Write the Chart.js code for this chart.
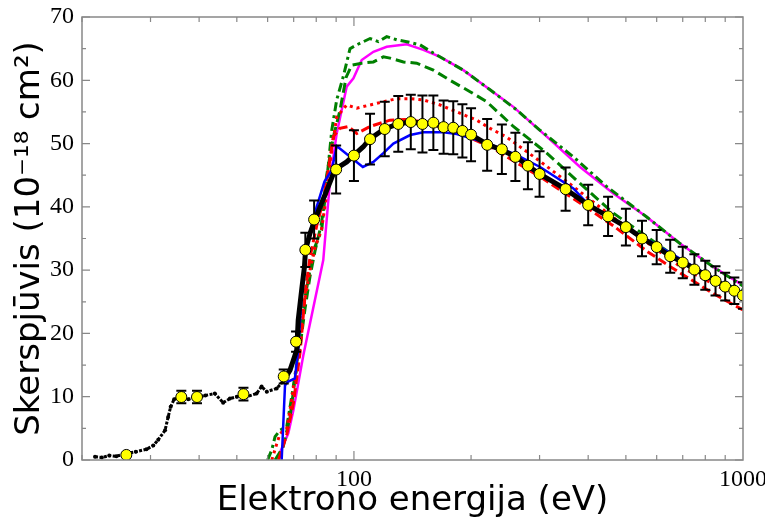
<!DOCTYPE html>
<html><head><meta charset="utf-8">
<script src="https://cdn.jsdelivr.net/npm/chart.js@4/dist/chart.umd.min.js"></script>
<style>html,body{margin:0;padding:0;background:#fff}canvas{display:block}</style>
</head><body>
<canvas id="c" width="765" height="522"></canvas>
<script>
// Experimental points with error bars (energy eV, cross section 1e-18 cm2)
const expE = [26,36,39.5,52,66,71,75,79,90,100,110,120,130,140,150,160,170,180,190,200,220,240,260,280,300,350,400,450,500,550,600,650,700,750,800,850,900,950,1000];
const expV = [0.8,9.95,9.95,10.4,13.2,18.7,33.2,38.0,45.9,48.1,50.7,52.3,53.1,53.4,53.1,53.3,52.6,52.5,52.0,51.4,49.8,49.1,47.9,46.5,45.2,42.8,40.3,38.5,36.8,35.0,33.65,32.2,31.2,30.1,29.2,28.3,27.4,26.75,26.0];
const expErr = [0,1.0,1.0,1.0,1.1,1.6,2.7,3.0,3.8,4.0,4.0,4.3,4.4,4.3,4.5,4.3,4.2,4.2,4.2,4.2,4.1,3.9,3.8,3.7,3.6,3.4,3.2,3.1,2.9,2.8,2.7,2.6,2.5,2.4,2.3,2.3,2.2,2.1,2.1];

// Dense measurement, low energy part (dots)
const dotE = [21.6,22.5,23.5,24.5,26.1,27.5,29.3,30.5,31.4,32.7,33.3,33.8,34.5,35.7,37.5,39.4,41.5,43.9,46.1,48,50,53,56.2,57.9,59.7,63.3,66.1,68.5,69.9];
const dotV = [0.5,0.4,0.7,0.6,1.05,1.3,1.7,2.3,3.2,4.7,6.8,8.4,9.6,9.9,9.6,9.9,10.2,10.5,9.05,9.7,10.0,10.0,10.5,11.6,10.8,11.3,12.6,14.2,15.8];

// Dense measurement, thick line part
const lineE = [66.1,68.5,69.9,71.3,71.9,73.4,74.6,75.1,77.1,79.4,85.9,89.4,95.8,99.7,105.7,109.7,119.7,129.8,139.6,149.6,159.6,169.4,179.6,190,200,219.8,239.6,260.8,280,300,350,400,450,502,552,602,652,704,754,804,854,902,955,1000];
const lineV = [12.6,14.2,15.8,17.4,22.1,26.9,30.5,33.2,35.8,38.0,43.2,45.9,47.1,48.1,49.5,50.7,52.3,53.1,53.4,53.2,53.2,52.7,52.4,52.0,51.4,49.9,49.0,47.9,46.5,45.2,42.8,40.3,38.5,36.8,35.0,33.6,32.2,31.2,30.1,29.2,28.3,27.4,26.75,26.0];

// Blue solid
const blueE = [65.2,66.5,67.8,70.5,71.9,73.4,75.1,77.1,80.2,84.0,87.7,90.3,105.4,112.2,119,126.3,139.5,150.8,169.7,183.8,219.8,260,300.9,366.4,400,500,1000];
const blueV = [0,11.8,12.4,12.9,17.4,26,33,36,40,44,45.8,49.6,46.3,47.1,48.5,50.0,51.35,51.8,51.8,51.5,50.1,48.3,46.3,42.9,40.4,36.8,26.0];

// Red dashed
const redDashE = [64,67.2,69.9,72.7,75.1,77.1,80.2,83.4,86,88.5,92,96.7,101.7,110,123.8,136.7,150.8,180,223.8,300,381.2,464.4,565.8,652,839,1000];
const redDashV = [0,4,9,17,27,32,37,41,46,51.1,52.4,52.7,51.6,52.7,53.7,53.8,53.4,52.1,49.5,44.8,40.6,37.0,33.0,30.5,26.3,23.7];

// Red dotted
const redDotE = [61.5,63.3,64.6,67.2,69.2,71.3,72.7,74.9,77.1,79.4,82.6,85.1,87.7,90.3,95.8,101.7,110,119,128.8,139.5,150.8,166.5,183.8,206.8,223.8,247.2,300.9,366.4,464.4,565.8,689,839,1000];
const redDotV = [0,2.5,4.2,5,9.5,15,20,25.5,30,33.5,36.5,42,49,54.2,56.1,55.6,56.1,56.6,57.1,57.1,56.9,56.1,55.0,53.7,52.4,51.0,47.2,43.2,38.3,34.4,30.6,27.8,25.6];

// Green dash-dot (upper)
const greenAE = [60,61.5,62.7,64.6,67.2,69.2,71.3,72.7,74.9,77.1,79.4,82.6,85.1,87.7,90.3,93.9,97.7,101.7,110,115.5,121.4,128.8,136.7,147.9,160,191.1,223.8,262.2,300.9,366.4,446.6,565.8,689,839,1000];
const greenAV = [0,1.6,3.7,4.7,5.3,10.0,15.3,20.5,25.8,30.0,33.7,36.3,44,52.1,56.9,60.6,65.0,65.6,66.6,66.1,66.9,66.4,66.1,65.6,64.3,61.6,58.5,55.3,52.1,47.9,43.2,38.4,34.2,30.5,27.5];

// Green dashed (lower)
const greenBE = [62.7,65.8,68.5,70.5,72.7,74.9,77.1,79.4,82.6,85.1,88.5,92.1,95.5,98.7,104.7,112.2,119,123.8,134,145,160,176.6,198.8,219.5,256.9,313.1,381.2,464.4,565.8,689,839,1000];
const greenBV = [0,2.1,6.8,12.6,18,24,29,33,37.5,45,51,55.3,60.5,62.4,62.7,62.9,63.7,63.5,62.9,62.7,61.6,60.0,58.2,56.6,52.7,48.5,43.7,39.0,35.3,31.6,28.4,26.8];

// Magenta solid
const magE = [63.3,67.8,69.9,74.1,83.4,86.8,90.3,95.8,99.7,104.7,112.2,121.4,136.7,150.8,166.5,191.1,223.8,256.9,313.1,381.2,464.4,565.8,689,839,1000];
const magV = [0,4.2,7.9,16.5,31.6,44.2,51.6,59.0,60.3,63.2,64.5,65.3,65.7,64.8,63.7,61.6,58.5,55.8,51.1,46.3,42.1,38.4,34.2,30.5,27.6];

const yTicks = [0,10,20,30,40,50,60,70];
const xLabels = [100,1000];

function pts(E, V) { return E.map((e, i) => ({x: e, y: V[i]})); }

const frameTicks = {
  id: 'frameTicks',
  afterDatasetsDraw(chart) {
    const {ctx, chartArea: a, scales: {x, y}} = chart;
    ctx.save();
    ctx.strokeStyle = '#888';
    ctx.lineWidth = 1.5;
    ctx.strokeRect(a.left, a.top, a.right - a.left, a.bottom - a.top);
    ctx.lineWidth = 1.2;
    ctx.beginPath();
    for (let v = 0; v <= 70; v += 5) {
      const py = y.getPixelForValue(v);
      const len = v % 10 === 0 ? 8 : 4;
      ctx.moveTo(a.left, py); ctx.lineTo(a.left + len, py);
      ctx.moveTo(a.right, py); ctx.lineTo(a.right - len, py);
    }
    const decades = [10, 100];
    for (const d of decades) {
      for (let k = 1; k <= 9; k++) {
        const e = d * k;
        if (e < 20 || e > 1000) continue;
        const px = x.getPixelForValue(e);
        const len = (k === 1) ? 9 : 5;
        ctx.moveTo(px, a.bottom); ctx.lineTo(px, a.bottom - len);
        ctx.moveTo(px, a.top); ctx.lineTo(px, a.top + len);
      }
    }
    ctx.stroke();
    ctx.restore();
  },
  beforeDatasetDraw(chart, args) {
    if (args.index !== 0) return;
    const {ctx, chartArea: a, scales: {x, y}} = chart;
    ctx.save();
    ctx.beginPath();
    ctx.rect(a.left, a.top, a.right - a.left, a.bottom - a.top);
    ctx.clip();
    ctx.strokeStyle = '#000';
    ctx.lineWidth = 2;
    ctx.beginPath();
    expE.forEach((e, i) => {
      const err = expErr[i];
      if (!err) return;
      const px = x.getPixelForValue(e);
      const p1 = y.getPixelForValue(expV[i] + err);
      const p2 = y.getPixelForValue(expV[i] - err);
      ctx.moveTo(px, p1); ctx.lineTo(px, p2);
      ctx.moveTo(px - 5, p1); ctx.lineTo(px + 5, p1);
      ctx.moveTo(px - 5, p2); ctx.lineTo(px + 5, p2);
    });
    ctx.stroke();
    ctx.restore();
  }
};

const lineDefaults = {showLine: true, pointRadius: 0, fill: false, tension: 0, clip: 0};

new Chart(document.getElementById('c'), {
  type: 'scatter',
  data: {
    datasets: [
      {label: 'exp', data: pts(expE, expV), showLine: false, pointRadius: 5.5, pointHoverRadius: 5.5,
       backgroundColor: '#ffff00', borderColor: '#000', borderWidth: 1, clip: 0, order: 0},
      Object.assign({label: 'line', data: pts(lineE, lineV), borderColor: '#000', borderWidth: 5, order: 1}, lineDefaults),
      Object.assign({label: 'dots', data: pts(dotE, dotV), borderColor: '#000', borderWidth: 3, borderDash: [3, 1.5],
        pointBackgroundColor: '#000', pointBorderWidth: 0, order: 2}, lineDefaults, {pointRadius: 2}),
      Object.assign({label: 'blue', data: pts(blueE, blueV), borderColor: '#0000ff', borderWidth: 2.5, order: 3}, lineDefaults),
      Object.assign({label: 'redDash', data: pts(redDashE, redDashV), borderColor: '#ff0000', borderWidth: 3, borderDash: [9, 4], order: 4}, lineDefaults),
      Object.assign({label: 'redDot', data: pts(redDotE, redDotV), borderColor: '#ff0000', borderWidth: 3, borderDash: [3, 4], order: 5}, lineDefaults),
      Object.assign({label: 'greenA', data: pts(greenAE, greenAV), borderColor: '#008000', borderWidth: 3, borderDash: [9, 4, 3, 4], order: 6}, lineDefaults),
      Object.assign({label: 'greenB', data: pts(greenBE, greenBV), borderColor: '#008000', borderWidth: 3, borderDash: [10, 5], order: 7}, lineDefaults),
      Object.assign({label: 'magenta', data: pts(magE, magV), borderColor: '#ff00ff', borderWidth: 2.5, order: 8}, lineDefaults)
    ]
  },
  options: {
    responsive: false,
    animation: false,
    devicePixelRatio: 1,
    layout: {padding: {top: 17, right: 22, left: 0, bottom: 0}},
    plugins: {legend: {display: false}, tooltip: {enabled: false}},
    scales: {
      x: {
        type: 'logarithmic', min: 20, max: 1000,
        grid: {display: false, drawTicks: false},
        border: {display: false},
        afterFit(s) { s.height = 62; s.paddingLeft = 0; s.paddingRight = 0; },
        afterBuildTicks(s) { s.ticks = xLabels.map(v => ({value: v})); },
        ticks: {
          autoSkip: false, maxRotation: 0, padding: 5, color: '#000',
          font: {family: 'Liberation Serif', size: 24},
          callback: (v) => String(v)
        },
        title: {display: true, text: 'Elektrono energija (eV)', color: '#000', padding: {top: 0, bottom: 0},
          font: {family: 'DejaVu Sans', size: 34}}
      },
      y: {
        min: 0, max: 70,
        grid: {display: false, drawTicks: false},
        border: {display: false},
        afterFit(s) { s.width = 82; s.paddingTop = 0; s.paddingBottom = 0; },
        afterBuildTicks(s) { s.ticks = yTicks.map(v => ({value: v})); },
        ticks: {
          padding: 8, color: '#000',
          font: {family: 'Liberation Serif', size: 24}
        },
        title: {display: true, text: 'Skerspjūvis (10⁻¹⁸ cm²)', color: '#000', padding: {top: 10, bottom: 0},
          font: {family: 'DejaVu Sans', size: 34}}
      }
    }
  },
  plugins: [frameTicks]
});
</script>
</body></html>
